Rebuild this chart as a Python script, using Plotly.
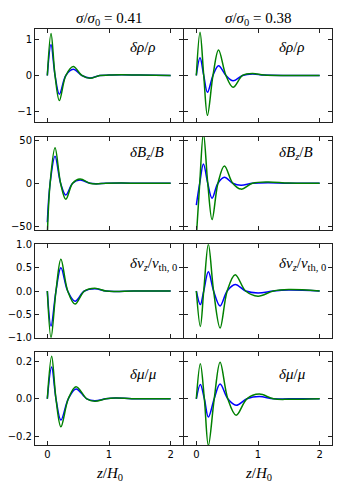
import plotly.graph_objects as go

# sigma/sigma0 for each column
sigmas = ["0.41", "0.38"]

# delta rho / rho
z_rho_a = [0, 0.06, 0.125, 0.195, 0.30, 0.42, 0.56, 0.69, 0.85, 1.0, 1.2, 1.5, 2.0]
rho_a_blue = [0, 0.86, 0, -0.52, 0, 0.17, 0, -0.07, 0, 0.01, 0.02, 0.01, 0]
rho_a_green = [0, 1.17, 0, -0.70, 0, 0.25, 0, -0.08, 0, 0.01, 0.02, 0.01, 0]
z_rho_b = [0, 0.06, 0.12, 0.18, 0.27, 0.36, 0.48, 0.595, 0.75, 0.91, 1.1, 1.5, 2.0]
rho_b_blue = [0, 0.49, 0, -0.47, 0, 0.27, 0, -0.15, 0, 0.04, 0.01, 0, 0]
rho_b_green = [0, 1.2, 0, -1.11, 0, 0.71, 0, -0.33, 0, 0.055, 0.01, 0, 0]

# delta B_z / B
z_bz_a = [0, 0.045, 0.125, 0.215, 0.30, 0.41, 0.53, 0.69, 0.79, 0.95, 1.2, 1.5, 2.0]
bz_a_blue = [-45, 0, 31.3, 0, -13.6, 0, 3.7, 0, -0.6, 0, 0.2, 0, 0]
bz_a_green = [-60, 0, 41, 0, -18.6, 0, 4.9, 0, -0.8, 0, 0.2, 0, 0]
z_bz_b = [0, 0.055, 0.115, 0.185, 0.255, 0.35, 0.455, 0.59, 0.725, 0.91, 1.16, 1.5, 2.0]
bz_b_blue = [-25.2, 0, 22.3, 0, -17.4, 0, 6.8, 0, -2.3, 0, 0.7, 0, 0]
bz_b_green = [-62, 0, 58, 0, -42, 0, 20, 0, -6.8, 0, 1.5, 0.2, 0]

# delta v_z / v_th,0
z_vz_a = [0, 0.06, 0.14, 0.22, 0.33, 0.45, 0.6, 0.77, 0.95, 1.1, 1.4, 2.0]
vz_a_blue = [0, -0.75, 0, 0.50, 0, -0.22, 0, 0.05, 0, -0.01, 0, 0]
vz_a_green = [0, -1.0, 0, 0.68, 0, -0.28, 0, 0.06, 0, -0.01, 0, 0]
z_vz_b = [0, 0.065, 0.12, 0.195, 0.28, 0.385, 0.5, 0.63, 0.8, 1.0, 1.25, 1.5, 2.0]
vz_b_blue = [0, -0.29, 0, 0.41, 0, -0.32, 0, 0.14, 0, -0.04, 0, 0.02, 0]
vz_b_green = [0, -0.76, 0, 1.0, 0, -0.79, 0, 0.35, 0, -0.11, 0, 0.03, 0]

# delta mu / mu
z_mu_a = [0, 0.07, 0.14, 0.22, 0.34, 0.465, 0.64, 0.77, 0.95, 1.1, 1.5, 2.0]
mu_a_blue = [0, 0.17, 0, -0.114, 0, 0.053, 0, -0.01, 0, 0.004, 0, 0]
mu_a_green = [0, 0.228, 0, -0.15, 0, 0.065, 0, -0.013, 0, 0.004, 0, 0]
z_mu_b = [0, 0.065, 0.13, 0.195, 0.29, 0.385, 0.51, 0.645, 0.82, 1.02, 1.25, 1.5, 2.0]
mu_b_blue = [0, 0.077, 0, -0.098, 0, 0.079, 0, -0.035, 0, 0.012, 0, 0, 0]
mu_b_green = [0, 0.188, 0, -0.25, 0, 0.196, 0, -0.088, 0, 0.025, 0, -0.003, 0]

rows = [
    ("<i>δρ</i>/<i>ρ</i>", [-1.3, 1.3], [-1, 0, 1], ["−1", "0", "1"], 0.80,
     [(z_rho_a, rho_a_blue, rho_a_green), (z_rho_b, rho_b_blue, rho_b_green)]),
    ("<i>δB<sub>z</sub></i>/<i>B</i>", [-54, 54], [-50, 0, 50], ["−50", "0", "50"], 0.82,
     [(z_bz_a, bz_a_blue, bz_a_green), (z_bz_b, bz_b_blue, bz_b_green)]),
    ("<i>δv<sub>z</sub></i>/<i>v</i><sub>th, 0</sub>", [-1, 1], [-1, -0.5, 0, 0.5, 1],
     ["−1.0", "−0.5", "0.0", "0.5", "1.0"], 0.79,
     [(z_vz_a, vz_a_blue, vz_a_green), (z_vz_b, vz_b_blue, vz_b_green)]),
    ("<i>δμ</i>/<i>μ</i>", [-0.25, 0.25], [-0.2, 0, 0.2], ["−0.2", "0.0", "0.2"], 0.77,
     [(z_mu_a, mu_a_blue, mu_a_green), (z_mu_b, mu_b_blue, mu_b_green)]),
]

W, H = 350, 500
col_px = [(35, 183), (184, 332)]
top0, period, ph = 24.3, 110.2, 95.5

fig = go.Figure()
annotations = []
layout = {}
tickfont = dict(family="DejaVu Sans", size=10, color="black")
serif = "Liberation Serif"

for r, (label, yr, yt, ytl, ylab, cols) in enumerate(rows):
    top = top0 + r * period
    ydom = [1 - (top + ph) / H, 1 - top / H]
    for c in range(2):
        i = r * 2 + c + 1
        sfx = "" if i == 1 else str(i)
        z, blue, green = cols[c]
        fig.add_trace(go.Scatter(x=z, y=blue, mode="lines", xaxis="x" + sfx, yaxis="y" + sfx,
                                 line=dict(color="#0000ff", width=1.5, shape="spline", smoothing=1),
                                 showlegend=False))
        fig.add_trace(go.Scatter(x=z, y=green, mode="lines", xaxis="x" + sfx, yaxis="y" + sfx,
                                 line=dict(color="#008000", width=1.5, shape="spline", smoothing=1),
                                 showlegend=False))
        common = dict(showline=True, linecolor="#222", linewidth=1, mirror="allticks",
                      ticks="inside", ticklen=4, tickcolor="#222", showgrid=False,
                      zeroline=False, tickfont=tickfont)
        layout["xaxis" + sfx] = dict(domain=[col_px[c][0] / W, col_px[c][1] / W],
                                     range=[-0.2, 2.2], anchor="y" + sfx,
                                     tickvals=[0, 1, 2], showticklabels=(r == 3), **common)
        layout["yaxis" + sfx] = dict(domain=ydom, range=yr, anchor="x" + sfx,
                                     tickvals=yt, ticktext=ytl, showticklabels=(c == 0), **common)
        annotations.append(dict(text=label, xref="x" + sfx + " domain", yref="y" + sfx + " domain",
                                x=0.63, y=ylab, xanchor="left", yanchor="middle", showarrow=False,
                                font=dict(family=serif, size=15, color="black")))

for c in range(2):
    cx = (col_px[c][0] + col_px[c][1]) / 2 / W
    annotations.append(dict(text="<i>σ</i>/<i>σ</i><sub>0</sub> = " + sigmas[c], xref="paper", yref="paper",
                            x=cx, y=1 - 14 / H, xanchor="center", yanchor="middle", showarrow=False,
                            font=dict(family=serif, size=15, color="black")))
    annotations.append(dict(text="<i>z</i>/<i>H</i><sub>0</sub>", xref="paper", yref="paper",
                            x=cx, y=1 - 480 / H, xanchor="center", yanchor="middle", showarrow=False,
                            font=dict(family=serif, size=15, color="black")))

fig.update_layout(width=W, height=H, margin=dict(l=0, r=0, t=0, b=0),
                  paper_bgcolor="white", plot_bgcolor="white",
                  annotations=annotations, **layout)

fig.write_html("out.html", config={"displayModeBar": False},
               post_script="document.body.style.margin='0';")
